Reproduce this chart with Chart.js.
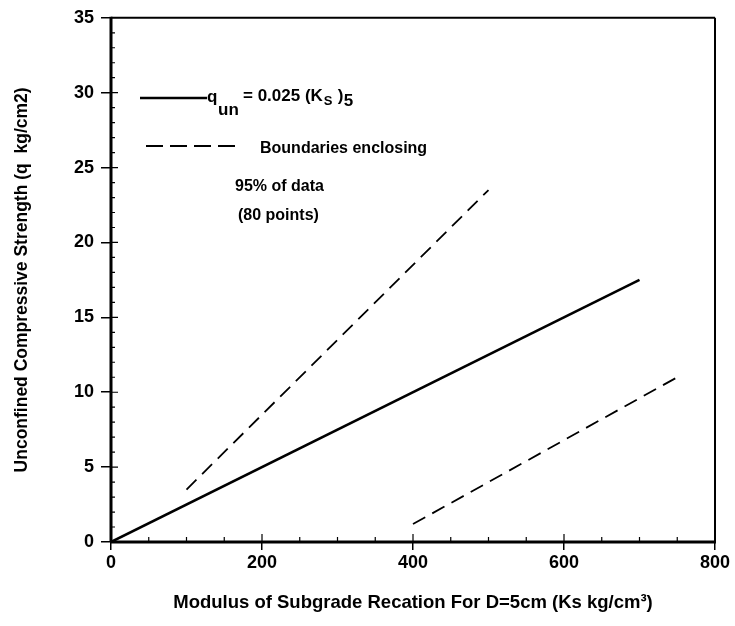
<!DOCTYPE html>
<html>
<head>
<meta charset="utf-8">
<script src="https://cdn.jsdelivr.net/npm/chart.js@4/dist/chart.umd.min.js"></script>
<style>
  html, body { margin: 0; padding: 0; background: #fff; }
  #wrap { width: 735px; height: 626px; }
</style>
</head>
<body>
<div id="wrap"><canvas id="chart" width="735" height="626"></canvas></div>
<script>
// values
var fitK = [0, 700];
var fitQ = [0, 17.5];
var upperK = [100, 500];
var upperQ = [3.5, 23.5];
var lowerK = [400, 750];
var lowerQ = [1.2, 11];
var xTicks = [0, 200, 400, 600, 800];
var yTicks = [0, 5, 10, 15, 20, 25, 30, 35];

var FONT = "'Liberation Sans', Arial, sans-serif";

function pts(xs, ys) {
    return xs.map(function (x, i) { return { x: x, y: ys[i] }; });
}

// frame, inner ticks and the legend box text
var decor = {
    id: 'decor',
    afterDraw: function (chart) {
        var ctx = chart.ctx;
        var a = chart.chartArea;
        var xs = chart.scales.x, ys = chart.scales.y;
        ctx.save();
        ctx.strokeStyle = '#000';
        // frame
        ctx.lineWidth = 2;
        ctx.beginPath();
        ctx.moveTo(a.left, a.top); ctx.lineTo(a.right, a.top);
        ctx.moveTo(a.right, a.top); ctx.lineTo(a.right, a.bottom);
        ctx.stroke();
        ctx.lineWidth = 3;
        ctx.beginPath();
        ctx.moveTo(a.left, a.top - 1); ctx.lineTo(a.left, a.bottom);
        ctx.moveTo(a.left, a.bottom); ctx.lineTo(a.right + 1, a.bottom);
        ctx.stroke();
        // minor y ticks every 1, majors poke inside
        ctx.lineWidth = 1.2;
        ctx.beginPath();
        for (var v = 1; v < 35; v++) {
            var py = ys.getPixelForValue(v);
            var len = (v % 5 === 0) ? 7 : 4;
            ctx.moveTo(a.left, py); ctx.lineTo(a.left + len, py);
        }
        // minor x ticks every 50
        for (var k = 50; k < 800; k += 50) {
            var px = xs.getPixelForValue(k);
            var l2 = (k % 200 === 0) ? 8 : 5;
            ctx.moveTo(px, a.bottom); ctx.lineTo(px, a.bottom - l2);
        }
        ctx.stroke();

        // legend
        ctx.fillStyle = '#000';
        ctx.lineWidth = 2.5;
        ctx.setLineDash([]);
        ctx.beginPath();
        ctx.moveTo(140, 98); ctx.lineTo(207, 98);
        ctx.stroke();
        ctx.lineWidth = 1.8;
        ctx.setLineDash([17, 7]);
        ctx.beginPath();
        ctx.moveTo(146, 146); ctx.lineTo(236, 146);
        ctx.stroke();
        ctx.setLineDash([]);

        ctx.textBaseline = 'alphabetic';
        ctx.textAlign = 'left';
        ctx.font = 'bold 17px ' + FONT;
        ctx.fillText('q', 207, 102);
        ctx.fillText('un', 218, 115);
        var eq = '= 0.025 (K';
        ctx.fillText(eq, 243, 101);
        var ex = 243 + ctx.measureText(eq).width;
        ctx.font = 'bold 13px ' + FONT;
        ctx.fillText('S', ex + 1, 105);
        ctx.font = 'bold 17px ' + FONT;
        ctx.fillText(')', ex + 15, 101);
        ctx.fillText('5', ex + 21, 106);
        ctx.font = 'bold 16px ' + FONT;
        ctx.fillText('Boundaries enclosing', 260, 153);
        ctx.fillText('95% of data', 235, 191);
        ctx.fillText('(80 points)', 238, 220);
        ctx.restore();
    }
};

var ctx = document.getElementById('chart');
new Chart(ctx, {
    type: 'scatter',
    data: {
        datasets: [{
            data: pts(fitK, fitQ),
            showLine: true,
            borderColor: '#000',
            borderWidth: 2.6,
            pointRadius: 0,
            fill: false
        }, {
            data: pts(upperK, upperQ),
            showLine: true,
            borderColor: '#000',
            borderWidth: 1.8,
            borderDash: [14, 8],
            pointRadius: 0,
            fill: false
        }, {
            data: pts(lowerK, lowerQ),
            showLine: true,
            borderColor: '#000',
            borderWidth: 1.8,
            borderDash: [14, 8],
            pointRadius: 0,
            fill: false
        }]
    },
    options: {
        responsive: false,
        animation: false,
        layout: { padding: { top: 17, right: 20, left: 0, bottom: 0 } },
        plugins: { legend: { display: false }, tooltip: { enabled: false } },
        scales: {
            x: {
                type: 'linear',
                min: 0, max: 800,
                afterBuildTicks: function (s) { s.ticks = xTicks.map(function (v) { return { value: v }; }); },
                afterFit: function (s) { s.height = 84; },
                border: { display: false },
                grid: { drawOnChartArea: false, drawTicks: true, tickLength: 8, color: '#000', lineWidth: 1.5 },
                ticks: { color: '#000', font: { family: FONT, size: 18, weight: 'bold' }, padding: 2, maxRotation: 0 },
                title: {
                    display: true,
                    text: 'Modulus of Subgrade Recation For D=5cm (Ks kg/cm\u00b3)',
                    color: '#000',
                    font: { family: FONT, size: 18.5, weight: 'bold' },
                    padding: { top: 4, bottom: 12 }
                }
            },
            y: {
                type: 'linear',
                min: 0, max: 35,
                afterBuildTicks: function (s) { s.ticks = yTicks.map(function (v) { return { value: v }; }); },
                afterFit: function (s) { s.width = 111; },
                border: { display: false },
                grid: { drawOnChartArea: false, drawTicks: true, tickLength: 10, color: '#000', lineWidth: 1.5 },
                ticks: { color: '#000', font: { family: FONT, size: 18, weight: 'bold' }, padding: 7 },
                title: {
                    display: true,
                    text: 'Unconfined Compressive Strength (q  kg/cm2)',
                    color: '#000',
                    font: { family: FONT, size: 17.5, weight: 'bold' },
                    padding: { top: 12, bottom: 4 }
                }
            }
        }
    },
    plugins: [decor]
});
</script>
</body>
</html>
